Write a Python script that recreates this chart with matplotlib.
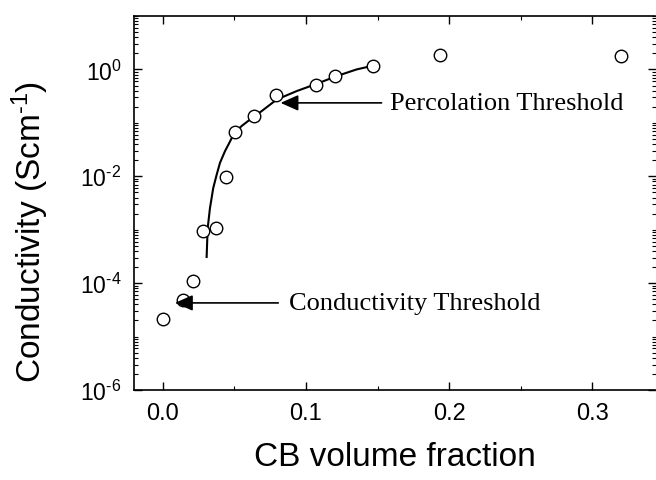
import matplotlib
matplotlib.use("Agg")
import matplotlib.pyplot as plt
from matplotlib.ticker import FixedLocator, LogLocator, NullFormatter

plt.rcParams['font.family'] = ['Liberation Sans', 'DejaVu Sans']
plt.rcParams['mathtext.fontset'] = 'custom'
plt.rcParams['mathtext.rm'] = 'Liberation Sans'
plt.rcParams['mathtext.it'] = 'Liberation Sans:italic'
plt.rcParams['mathtext.bf'] = 'Liberation Sans:bold'
plt.rcParams['axes.unicode_minus'] = False

# measured data points
cb_fraction = [0.0, 0.014, 0.021, 0.028, 0.037, 0.044, 0.0505, 0.064, 0.079, 0.107, 0.120, 0.1465, 0.1935, 0.320]
conductivity = [2.1e-5, 4.8e-5, 1.1e-4, 9.4e-4, 1.1e-3, 9.8e-3, 0.066, 0.133, 0.33, 0.51, 0.75, 1.17, 1.9, 1.76]

# fitted curve
fit_x = [0.0307, 0.0314, 0.0330, 0.0353, 0.0377, 0.0400, 0.0435, 0.0470, 0.0500, 0.0551,
         0.0609, 0.0691, 0.0796, 0.0935, 0.1075, 0.1214, 0.1354, 0.1465]
fit_y = [3.09e-4, 1.05e-3, 2.51e-3, 6.03e-3, 1.07e-2, 1.78e-2, 2.95e-2, 4.47e-2, 6.46e-2, 8.71e-2,
         0.115, 0.166, 0.273, 0.393, 0.538, 0.750, 1.0, 1.17]

x_ticks = [0.0, 0.1, 0.2, 0.3]
x_ticklabels = ["0.0", "0.1", "0.2", "0.3"]
y_ticks = [1e-6, 1e-4, 1e-2, 1e0]
y_ticklabels = [r"10$^{\text{-}6}$", r"10$^{\text{-}4}$", r"10$^{\text{-}2}$", r"10$^{0}$"]

fig = plt.figure(figsize=(6.56, 4.81), dpi=100)
ax = fig.add_axes([134/656, 1-391/481, (655.5-134)/656, (391-17)/481])

ax.plot(fit_x, fit_y, color='black', lw=1.5, zorder=2)
ax.plot(cb_fraction, conductivity, 'o', mfc='white', mec='black', ms=9, mew=1.0, zorder=3)

ax.set_yscale('log')
ax.set_xlim(-0.02, 0.344)
ax.set_ylim(1e-6, 1e1)

ax.set_xticks(x_ticks)
ax.set_xticklabels(x_ticklabels)
ax.xaxis.set_minor_locator(FixedLocator([0.05, 0.15, 0.25]))
ax.set_yticks(y_ticks)
ax.set_yticklabels(y_ticklabels)
ax.yaxis.set_minor_locator(LogLocator(base=10, subs=[1, 2, 3, 4, 5, 6, 7, 8, 9], numticks=20))
ax.yaxis.set_minor_formatter(NullFormatter())

ax.tick_params(axis='both', which='major', direction='in', length=6, width=1, top=True, right=True)
ax.tick_params(axis='both', which='minor', direction='in', length=3, width=0.8, top=True, right=True)
ax.tick_params(axis='x', labelsize=17, pad=9)
ax.tick_params(axis='y', labelsize=16.5, pad=9)
ax.spines['right'].set_visible(False)
for s in ['left', 'bottom', 'top']:
    ax.spines[s].set_linewidth(1.2)

ax.set_xlabel("CB volume fraction", fontsize=24, labelpad=12)
ax.set_ylabel(r"Conductivity (Scm$^{\text{-}1}$)", fontsize=24)
ax.yaxis.set_label_coords(-0.159, 0.4265)

serif = ['Liberation Serif', 'DejaVu Serif']
arrow_kw = dict(arrowstyle='-|>,head_length=0.9,head_width=0.4', color='black', lw=1.2,
                mutation_scale=12, shrinkA=0, shrinkB=0)
ax.annotate("", xy=(0.0823, 10**-0.626), xytext=(0.1528, 10**-0.626), arrowprops=arrow_kw)
ax.text(0.159, 10**-0.626, "Percolation Threshold", fontsize=19, family=serif, va='center', ha='left')
ax.annotate("", xy=(0.0086, 10**-4.37), xytext=(0.0807, 10**-4.37), arrowprops=arrow_kw)
ax.text(0.0884, 10**-4.37, "Conductivity Threshold", fontsize=19, family=serif, va='center', ha='left')

fig.savefig("out.png", dpi=100)
